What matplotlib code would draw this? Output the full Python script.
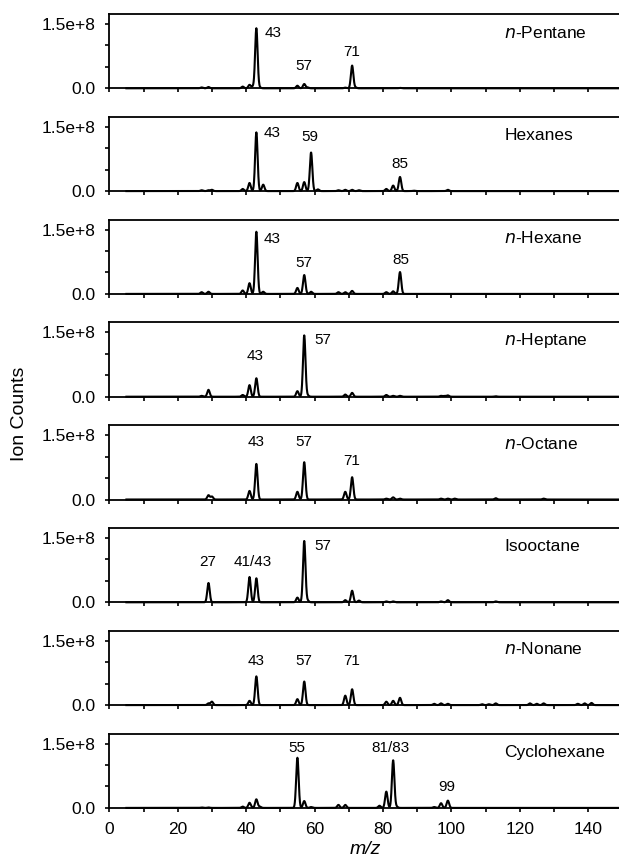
import numpy as np
import matplotlib
matplotlib.use("Agg")
import matplotlib.pyplot as plt
from matplotlib.ticker import MultipleLocator, FixedLocator, FixedFormatter

plt.rcParams['font.family'] = ['Liberation Sans', 'DejaVu Sans']

# ---------------- data (peak m/z and ion counts) ----------------
names = ["n-Pentane", "Hexanes", "n-Hexane", "n-Heptane",
         "n-Octane", "Isooctane", "n-Nonane", "Cyclohexane"]

pentane_mz = [27, 29, 39, 41, 42, 43, 44, 55, 57, 58, 69, 71, 72, 85]
pentane_ic = [0.02e8, 0.03e8, 0.04e8, 0.08e8, 0.04e8, 1.40e8, 0.02e8,
              0.06e8, 0.10e8, 0.02e8, 0.015e8, 0.53e8, 0.02e8, 0.01e8]

hexanes_mz = [27, 29, 30, 39, 41, 43, 45, 55, 57, 59, 61, 67, 69, 71, 73,
              81, 83, 85, 89, 99]
hexanes_ic = [0.02e8, 0.02e8, 0.03e8, 0.05e8, 0.19e8, 1.37e8, 0.15e8,
              0.19e8, 0.21e8, 0.90e8, 0.04e8, 0.02e8, 0.03e8, 0.03e8, 0.02e8,
              0.05e8, 0.13e8, 0.33e8, 0.01e8, 0.03e8]

hexane_mz = [27, 29, 39, 41, 43, 45, 55, 57, 59, 67, 69, 71, 81, 83, 85]
hexane_ic = [0.04e8, 0.05e8, 0.08e8, 0.25e8, 1.45e8, 0.05e8, 0.14e8,
             0.44e8, 0.05e8, 0.04e8, 0.04e8, 0.07e8, 0.04e8, 0.06e8, 0.51e8]

heptane_mz = [27, 29, 39, 41, 43, 55, 57, 58, 69, 71, 81, 83, 85,
              97, 98, 99, 113]
heptane_ic = [0.02e8, 0.16e8, 0.04e8, 0.27e8, 0.43e8, 0.13e8, 1.43e8,
              0.03e8, 0.05e8, 0.09e8, 0.04e8, 0.02e8, 0.02e8,
              0.02e8, 0.02e8, 0.03e8, 0.01e8]

octane_mz = [29, 30, 41, 43, 55, 57, 69, 71, 81, 83, 85, 97, 99, 101,
             113, 127]
octane_ic = [0.10e8, 0.07e8, 0.20e8, 0.83e8, 0.18e8, 0.87e8, 0.18e8,
             0.52e8, 0.02e8, 0.05e8, 0.02e8, 0.02e8, 0.02e8, 0.02e8,
             0.03e8, 0.02e8]

isooctane_mz = [29, 41, 43, 55, 57, 58, 69, 71, 73, 81, 83, 97, 99, 113]
isooctane_ic = [0.45e8, 0.59e8, 0.56e8, 0.11e8, 1.43e8, 0.04e8, 0.05e8,
                0.27e8, 0.04e8, 0.02e8, 0.02e8, 0.02e8, 0.05e8, 0.02e8]

nonane_mz = [29, 30, 41, 43, 55, 57, 69, 71, 81, 83, 85, 95, 97, 99,
             109, 111, 113, 123, 125, 127, 137, 139, 141]
nonane_ic = [0.04e8, 0.08e8, 0.10e8, 0.67e8, 0.14e8, 0.55e8, 0.22e8,
             0.37e8, 0.08e8, 0.10e8, 0.17e8, 0.03e8, 0.04e8, 0.03e8,
             0.02e8, 0.02e8, 0.04e8, 0.04e8, 0.03e8, 0.04e8,
             0.03e8, 0.04e8, 0.05e8]

cyclo_mz = [27, 29, 39, 41, 43, 44, 55, 57, 59, 67, 69, 79, 81, 83, 84,
            95, 97, 99]
cyclo_ic = [0.01e8, 0.01e8, 0.03e8, 0.12e8, 0.20e8, 0.03e8, 1.17e8,
            0.16e8, 0.02e8, 0.07e8, 0.07e8, 0.05e8, 0.38e8, 1.11e8, 0.03e8,
            0.02e8, 0.11e8, 0.17e8]

spectra_mz = [pentane_mz, hexanes_mz, hexane_mz, heptane_mz,
              octane_mz, isooctane_mz, nonane_mz, cyclo_mz]
spectra_ic = [pentane_ic, hexanes_ic, hexane_ic, heptane_ic,
              octane_ic, isooctane_ic, nonane_ic, cyclo_ic]

# peak labels: (text, m/z position, ion-count level)
peak_labels = [
    [("43", 48.0, 1.30e8), ("57", 56.8, 0.51e8), ("71", 70.9, 0.85e8)],
    [("43", 47.5, 1.35e8), ("59", 58.6, 1.27e8), ("85", 85.0, 0.64e8)],
    [("43", 47.5, 1.28e8), ("57", 56.8, 0.73e8), ("85", 85.2, 0.78e8)],
    [("43", 42.5, 0.96e8), ("57", 62.5, 1.33e8)],
    [("43", 42.9, 1.34e8), ("57", 56.8, 1.34e8), ("71", 70.9, 0.90e8)],
    [("27", 28.8, 0.94e8), ("41/43", 41.8, 0.94e8), ("57", 62.5, 1.31e8)],
    [("43", 42.9, 1.04e8), ("57", 56.8, 1.04e8), ("71", 70.9, 1.02e8)],
    [("55", 54.7, 1.40e8), ("81/83", 82.2, 1.40e8), ("99", 98.7, 0.49e8)],
]

x_ticks = [0, 20, 40, 60, 80, 100, 120, 140]

# ---------------- figure ----------------
W, H = 619, 864
fig = plt.figure(figsize=(W / 100, H / 100), dpi=100)

x0_px = 109.3
px_per_unit = 3.42
xmax = 150
first_zero = 88.3
spacing = 102.8
panel_h = 74.3

grid = np.arange(5.0, 150.0, 0.05)
sigma = 0.36

for i, name in enumerate(names):
    zero_px = first_zero + spacing * i
    ax = fig.add_axes([x0_px / W, 1 - zero_px / H,
                       xmax * px_per_unit / W, panel_h / H])
    mz = np.array(spectra_mz[i], dtype=float)
    ic = np.array(spectra_ic[i], dtype=float)
    prof = (ic[:, None] * np.exp(-0.5 * ((grid[None, :] - mz[:, None]) / sigma) ** 2)).sum(axis=0)
    ax.plot(grid, prof, color='black', lw=1.5, clip_on=False)
    ax.set_xlim(0, xmax)
    ax.set_ylim(0, 1.733e8)

    for sp in ['top', 'left', 'bottom']:
        ax.spines[sp].set_linewidth(1.3)
    ax.spines['right'].set_visible(False)

    ax.yaxis.set_major_locator(FixedLocator([0, 1.5e8]))
    ax.yaxis.set_major_formatter(FixedFormatter(["0.0", "1.5e+8"]))
    ax.yaxis.set_minor_locator(FixedLocator([0.5e8, 1.0e8]))
    ax.xaxis.set_major_locator(FixedLocator(x_ticks))
    ax.xaxis.set_minor_locator(MultipleLocator(10))
    ax.tick_params(which='both', direction='out', length=3.2, width=1.2)
    ax.tick_params(axis='y', labelsize=12.5, pad=7)
    ax.tick_params(axis='x', labelsize=12.5, pad=7)
    if i < len(names) - 1:
        ax.tick_params(axis='x', labelbottom=False)

    if name.startswith("n-"):
        label = r"$\it{n}$-" + name[2:]
    else:
        label = name
    ax.text(115.5, 1.30e8, label, ha='left', va='center', fontsize=12.5)

    for txt, lx, ly in peak_labels[i]:
        ax.text(lx, ly, txt, ha='center', va='center', fontsize=11)

    if i == len(names) - 1:
        ax.set_xlabel("m/z", fontsize=14, style='italic', labelpad=3)

fig.text(0.031, 0.521, "Ion Counts", rotation=90, ha='center', va='center',
         fontsize=14)

fig.savefig("out.png", dpi=100)
